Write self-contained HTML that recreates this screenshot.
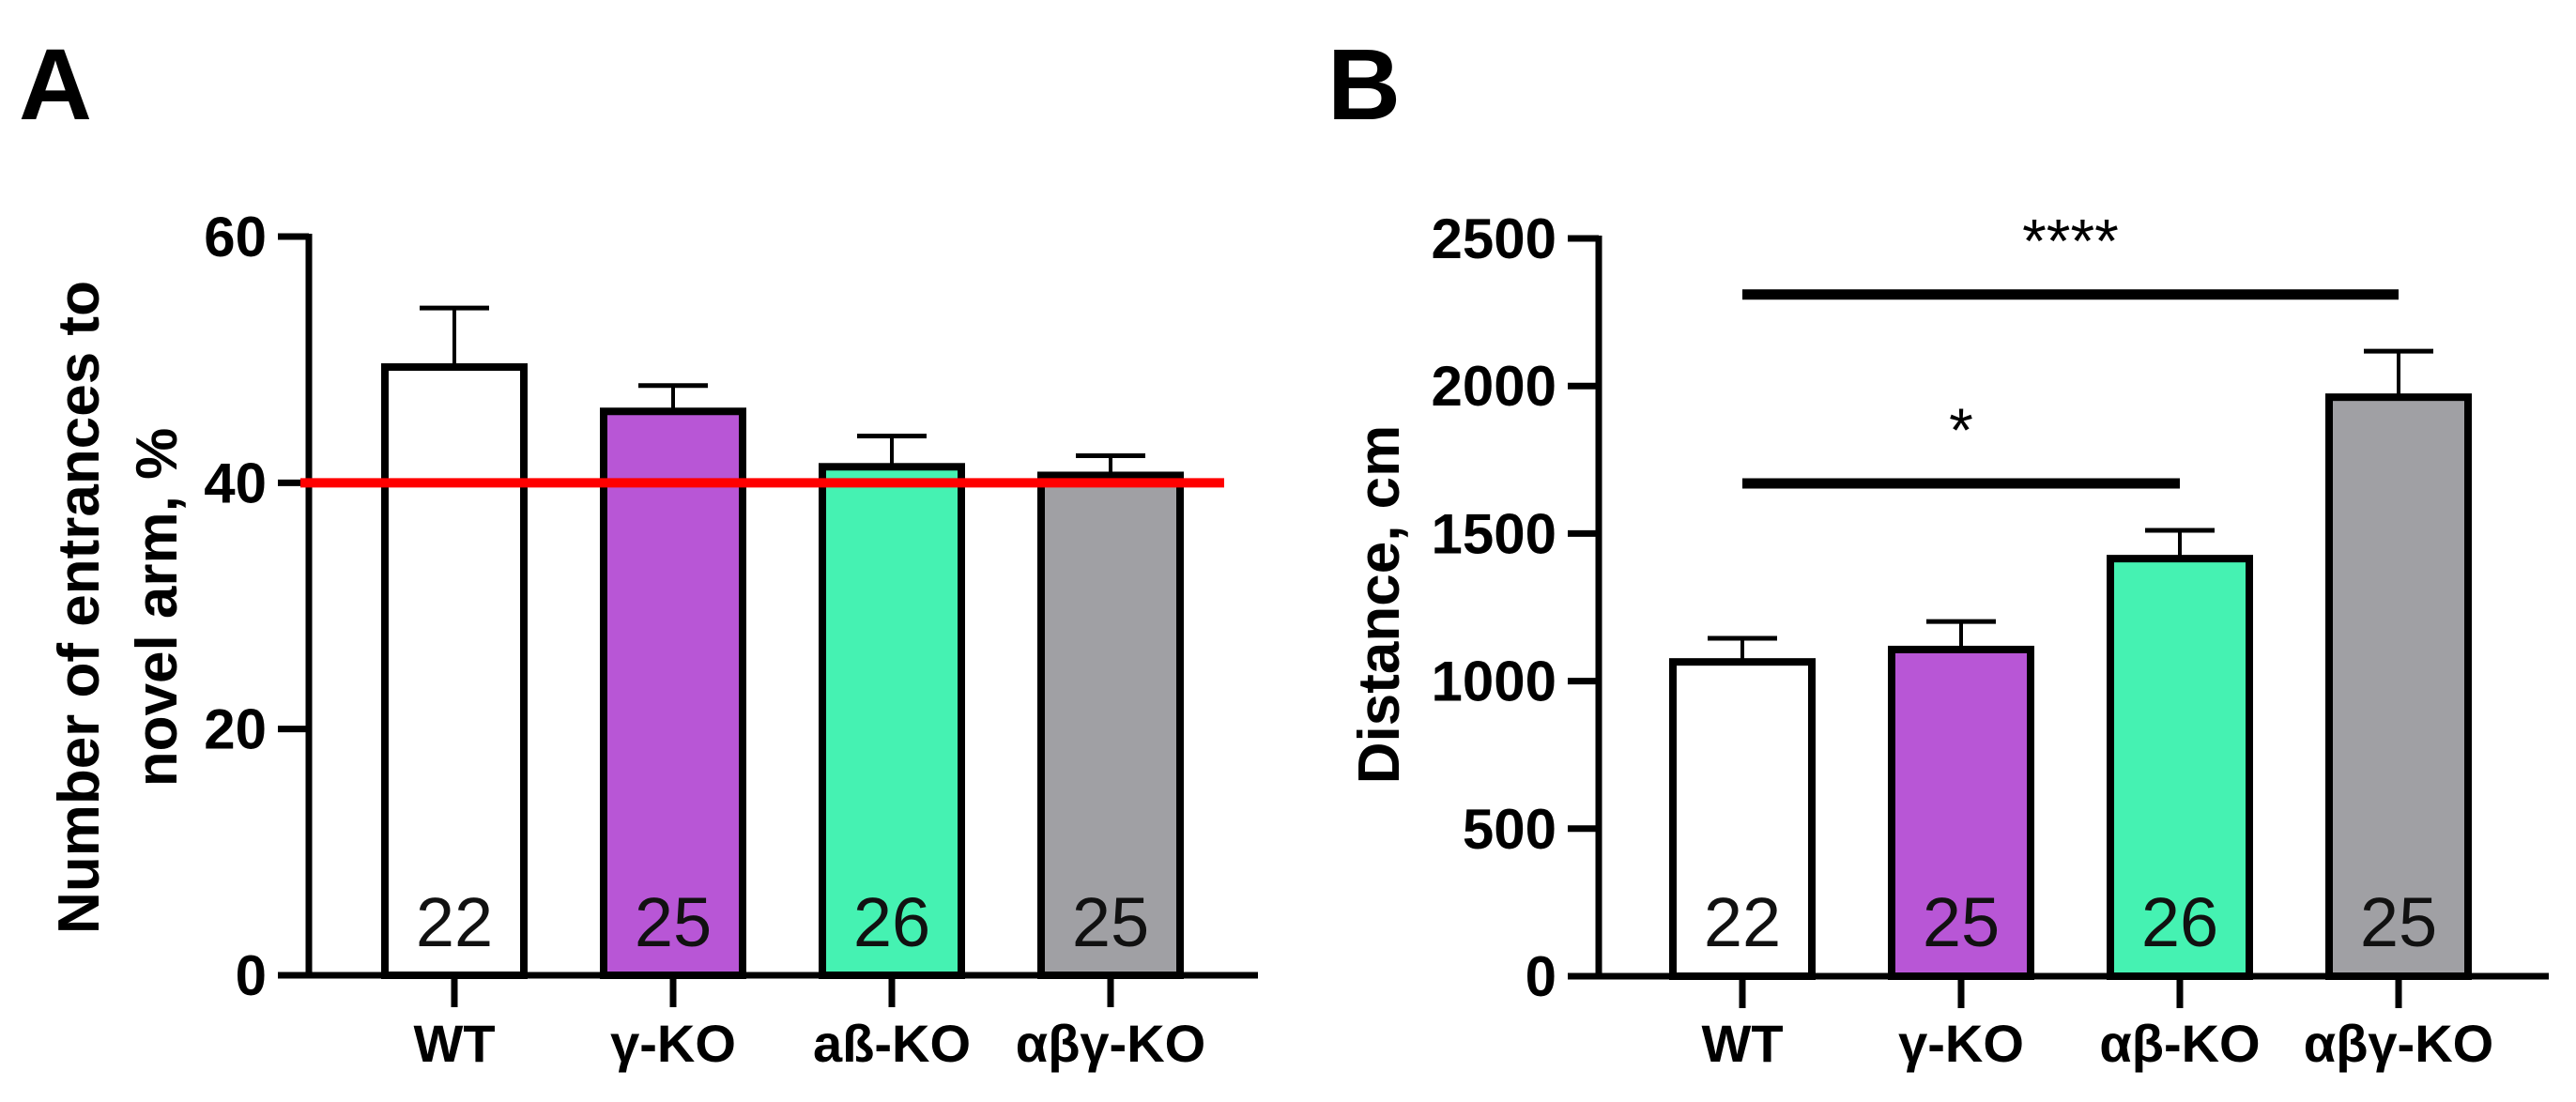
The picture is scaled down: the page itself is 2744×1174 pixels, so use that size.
<!DOCTYPE html>
<html><head><meta charset="utf-8"><style>
html,body{margin:0;padding:0;background:#fff;}
svg{display:block;font-family:"Liberation Sans",Arial,sans-serif;}
</style></head><body>
<svg id="fig" width="2744" height="1174" viewBox="0 0 2744 1174" xmlns="http://www.w3.org/2000/svg">
<text x="20" y="127" font-size="108" font-weight="bold">A</text>
<text x="1414" y="127" font-size="108" font-weight="bold">B</text>
<g id="panelA"></g>
<g id="panelB"></g>
</svg>
<script>
const categories = ["WT", "γ-KO", "aß-KO", "αβγ-KO"];
const categoriesB = ["WT", "γ-KO", "αβ-KO", "αβγ-KO"];
const nLabels = ["22", "25", "26", "25"];
const valuesA = [49.4, 45.8, 41.3, 40.6];
const errorsA = [4.8, 2.1, 2.5, 1.6];
const ticksA = [0, 20, 40, 60];
const refLineA = 40;
const valuesB = [1065, 1107, 1415, 1962];
const errorsB = [80, 95, 96, 156];
const ticksB = [0, 500, 1000, 1500, 2000, 2500];
const sigPairs = [[0, 2, 1670, "*"], [0, 3, 2310, "****"]];
const colors = ["#ffffff", "#b856d6", "#45f2b2", "#a0a0a4"];

const NS = "http://www.w3.org/2000/svg";
function mk(parent, tag, attrs, text) {
  const e = document.createElementNS(NS, tag);
  for (const k in attrs) e.setAttribute(k, attrs[k]);
  if (text !== undefined) e.textContent = text;
  parent.appendChild(e);
  return e;
}

function drawPanel(g, o) {
  const y = v => o.y0 - (v - o.min) / (o.max - o.min) * (o.y0 - o.yTop);
  const x = i => o.x0 + i * o.step;
  o.titles.forEach((t, k) => {
    const el = mk(g, "text", {x: 0, y: 0, "font-size": 62, "font-weight": "bold", "text-anchor": "middle",
      transform: `translate(${o.titleX[k]},${o.titleY}) rotate(-90)`}, t);
    
    
  });
  o.values.forEach((v, i) => {
    const cx = x(i);
    const top = y(v + o.errors[i]);
    const eb = mk(g, "line", {x1: cx, x2: cx, y1: y(v), y2: top, stroke: "#000", "stroke-width": 4});
    
    
    const cap = mk(g, "line", {x1: cx - 37, x2: cx + 37, y1: top, y2: top, stroke: "#000", "stroke-width": 5});
    
    
    const r = mk(g, "rect", {x: cx - 74, y: y(v), width: 148, height: o.y0 - y(v), fill: colors[i], stroke: "#000", "stroke-width": 8});
    
    
    const t = mk(g, "text", {x: cx, y: 1008, "font-size": 74, "text-anchor": "middle", fill: "#111"}, nLabels[i]);
    
    
    const tk = mk(g, "line", {x1: cx, x2: cx, y1: o.y0, y2: o.y0 + 34, stroke: "#000", "stroke-width": 7});
    
    
    const xl = mk(g, "text", {x: cx, y: 1131, "font-size": 56, "font-weight": "bold", "text-anchor": "middle"}, o.cats[i]);
    
    
  });
  const ya = mk(g, "line", {x1: o.ax, x2: o.ax, y1: o.yTop - 3, y2: o.y0 + 3, stroke: "#000", "stroke-width": 7});
  
  
  const xa = mk(g, "line", {x1: o.ax - 33, x2: o.xEnd, y1: o.y0, y2: o.y0, stroke: "#000", "stroke-width": 7});
  
  
  o.ticks.forEach(t => {
    const l = mk(g, "line", {x1: o.ax - 33, x2: o.ax, y1: y(t), y2: y(t), stroke: "#000", "stroke-width": 7});
    
    
    const tl = mk(g, "text", {x: o.ax - 45, y: y(t) + 21, "font-size": 60, "font-weight": "bold", "text-anchor": "end"}, String(t));
    
    
  });
  return {x, y};
}

const A = drawPanel(document.getElementById("panelA"), {
  values: valuesA, errors: errorsA, ticks: ticksA, cats: categories, min: 0, max: 60,
  y0: 1039, yTop: 252, ax: 329, x0: 484, step: 233, xEnd: 1340,
  titles: ["Number of entrances to", "novel arm, %"], titleX: [105, 188], titleY: 647
});
const ref = mk(document.getElementById("panelA"), "line", {x1: 320, x2: 1304, y1: A.y(refLineA), y2: A.y(refLineA), stroke: "#ff0000", "stroke-width": 10});



const gB = document.getElementById("panelB");
const B = drawPanel(gB, {
  values: valuesB, errors: errorsB, ticks: ticksB, cats: categoriesB, min: 0, max: 2500,
  y0: 1040, yTop: 254, ax: 1703, x0: 1856, step: 233, xEnd: 2715,
  titles: ["Distance, cm"], titleX: [1490], titleY: 644
});
sigPairs.forEach(p => {
  const yy = B.y(p[2]);
  const l = mk(gB, "line", {x1: B.x(p[0]), x2: B.x(p[1]), y1: yy, y2: yy, stroke: "#000", "stroke-width": 11});
  
  
  const t = mk(gB, "text", {x: (B.x(p[0]) + B.x(p[1])) / 2, y: yy - 34, "font-size": 66, "text-anchor": "middle"}, p[3]);
  
  
});
</script>
</body></html>
